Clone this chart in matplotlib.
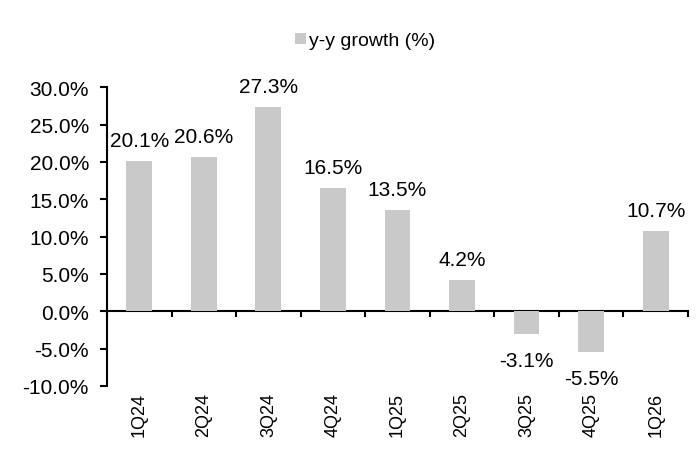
import matplotlib.pyplot as plt
import numpy as np

quarters = ['1Q24', '2Q24', '3Q24', '4Q24', '1Q25', '2Q25', '3Q25', '4Q25', '1Q26']
growth = [20.1, 20.6, 27.3, 16.5, 13.5, 4.2, -3.1, -5.5, 10.7]
yticks = [-10, -5, 0, 5, 10, 15, 20, 25, 30]

plt.rcParams['font.family'] = ['Liberation Sans', 'DejaVu Sans']
plt.rcParams['font.size'] = 15

fig = plt.figure(figsize=(6.97, 4.64), dpi=100)
ax = fig.add_axes([0.1535, 0.166, 0.8335, 0.644])

x = np.arange(len(quarters))
bars = ax.bar(x, growth, width=0.4, color='#c9c9c9', label='y-y growth (%)')

# value labels: above positive bars, below negative ones
for xi, v in zip(x, growth):
  if v >= 0:
    ax.annotate(f'{v:.1f}%', (xi, v), xytext=(0, 11), textcoords='offset points',
                ha='center', va='baseline')
  else:
    ax.annotate(f'{v:.1f}%', (xi, v), xytext=(0, -12), textcoords='offset points',
                ha='center', va='top')

ax.set_xlim(-0.5, len(quarters) - 0.5)
ax.set_ylim(-10, 30)
ax.set_yticks(yticks)
ax.set_yticklabels([f'{t:.1f}%' for t in yticks])

for s in ['top', 'right', 'bottom']:
  ax.spines[s].set_visible(False)
ax.spines['left'].set_linewidth(1.5)
ax.tick_params(axis='y', direction='out', length=5, width=1.5, pad=8)

ax.set_xticks(x)
ax.set_xticklabels(quarters, rotation=90, fontsize=13)
ax.tick_params(axis='x', length=0, pad=4)

# zero line with ticks between categories
sec = ax.secondary_xaxis(0.25)
sec.spines['bottom'].set_linewidth(1.5)
sec.set_xticks(np.arange(len(quarters) + 1) - 0.5)
sec.set_xticklabels([])
sec.tick_params(axis='x', direction='out', length=4.5, width=1.5)

fig.legend(handles=[bars], loc='center', bbox_to_anchor=(0.524, 0.91), frameon=False,
           handlelength=0.55, handleheight=0.55, handletextpad=0.2, fontsize=14)

fig.savefig('out.png', dpi=100)
